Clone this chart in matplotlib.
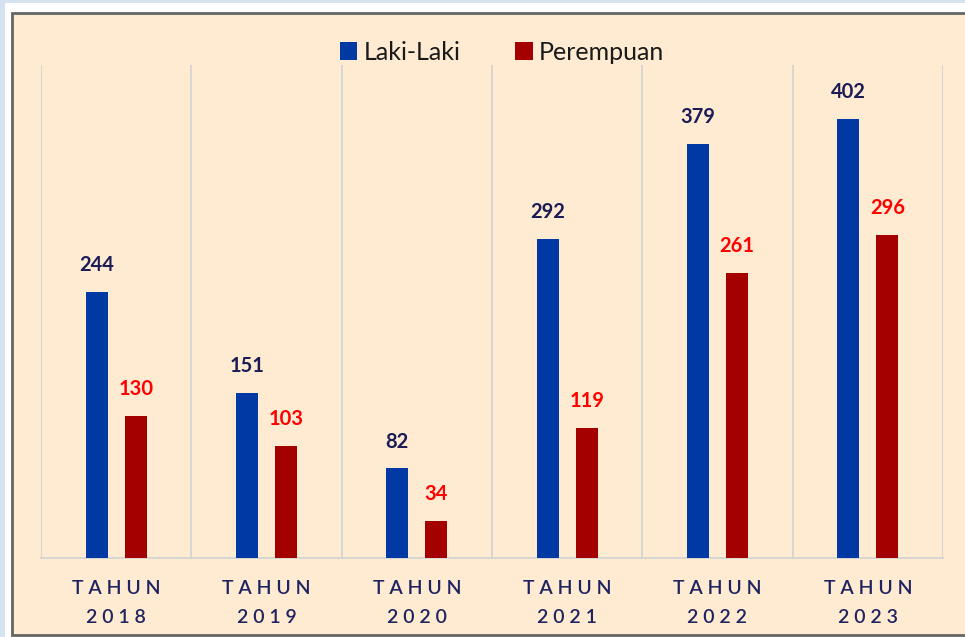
import matplotlib
matplotlib.use("Agg")
import matplotlib.pyplot as plt
import numpy as np
from matplotlib.patches import Rectangle, Patch

years = ["2018", "2019", "2020", "2021", "2022", "2023"]
laki = [244, 151, 82, 292, 379, 402]
perempuan = [130, 103, 34, 119, 261, 296]
series_names = ["Laki-Laki", "Perempuan"]

plt.rcParams['font.family'] = ['Lato', 'DejaVu Sans']

W, H = 965, 637
fig = plt.figure(figsize=(W/100, H/100), dpi=100, facecolor='#D6E2EF')

# frame layers
fig.patches.append(Rectangle((5/W, 0), 1, (H-3)/H, transform=fig.transFigure,
                             facecolor='white', edgecolor='none', zorder=-3))
fig.patches.append(Rectangle((12/W, 2/H), 1.2, (H-13)/H - 2/H, transform=fig.transFigure,
                             facecolor='#FFEBD2', edgecolor='#666666', linewidth=2, zorder=-2))

ax = fig.add_axes([41/W, (H-558)/H, (943-41)/W, (558-65)/H])
ax.set_facecolor('none')
x = np.arange(len(years))
bw = 0.147
off = 0.13
c_blue = '#0039A4'
c_red = '#A50000'
ax.bar(x - off, laki, bw, color=c_blue, zorder=3)
ax.bar(x + off, perempuan, bw, color=c_red, zorder=3)

for xi, v in zip(x, laki):
    ax.annotate(str(v), (xi - off, v), xytext=(0, 12), textcoords='offset points',
                ha='center', va='bottom', fontsize=14.5, fontweight='bold', color='#1B1B55')
for xi, v in zip(x, perempuan):
    ax.annotate(str(v), (xi + off, v), xytext=(0, 12), textcoords='offset points',
                ha='center', va='bottom', fontsize=14.5, fontweight='bold', color='#FF0000')

ax.set_xlim(-0.5, len(years) - 0.5)
ax.set_ylim(0, 451.5)
for b in np.arange(-0.5, len(years), 1.0):
    ax.axvline(b, color='#D4D4D4', linewidth=1.3, zorder=1)
for s in ['top', 'right', 'left']:
    ax.spines[s].set_visible(False)
ax.spines['bottom'].set_color('#D4D4D4')
ax.spines['bottom'].set_linewidth(1.3)
ax.set_yticks([])
ax.set_xticks(x)
ax.set_xticklabels(["T A H U N\n" + " ".join(y) for y in years], fontsize=14,
                   fontweight='semibold', color='#1F2460', linespacing=1.85)
ax.tick_params(axis='x', length=0, pad=16)

handles = [Patch(facecolor=c_blue), Patch(facecolor=c_red)]
fig.legend(handles, series_names, loc='center', bbox_to_anchor=(502/W, (H-52)/H),
           ncol=2, frameon=False, fontsize=18, handlelength=0.7, handleheight=0.7,
           handletextpad=0.25, columnspacing=2.2, labelcolor='#1A1A1A')

fig.savefig('out.png', dpi=100, facecolor=fig.get_facecolor())
